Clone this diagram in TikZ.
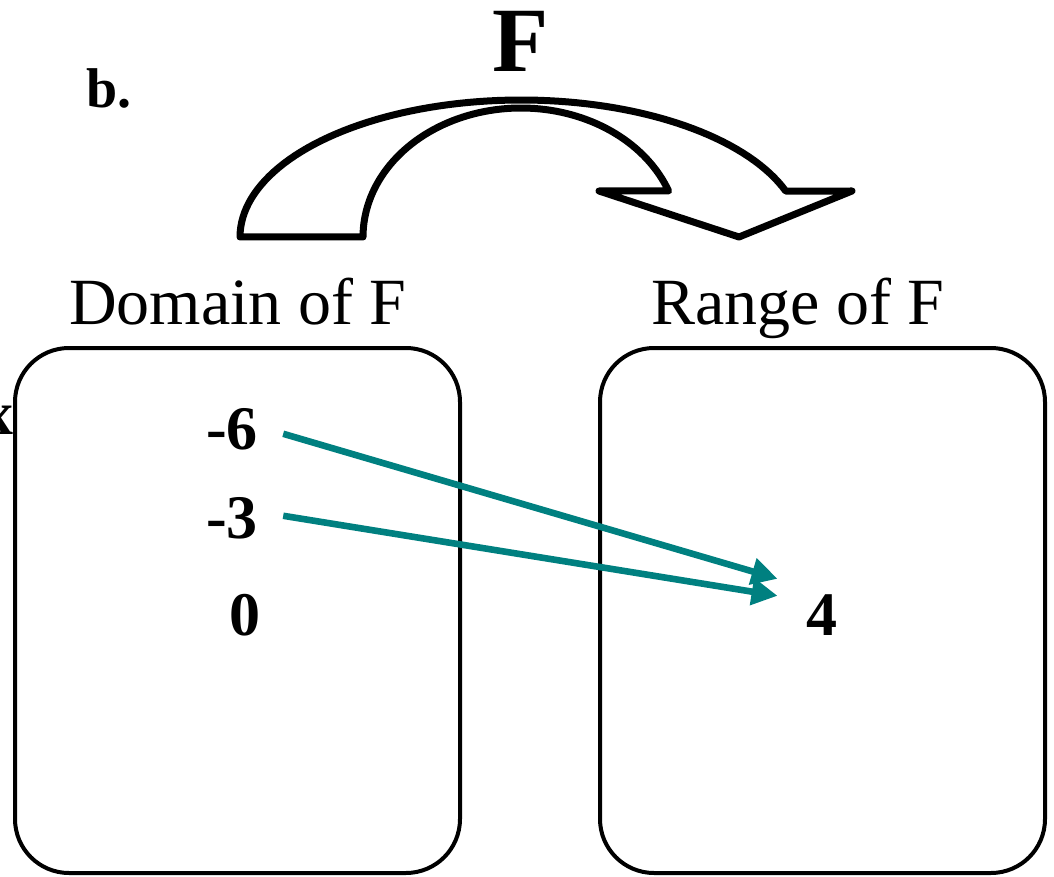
\documentclass[tikz,border=0pt]{standalone}
\usepackage{fontspec}
\setmainfont{Liberation Serif}
\usepackage{xcolor}
\usepackage{tikz}
\usetikzlibrary{positioning,calc,arrows.meta}
\definecolor{mapteal}{RGB}{0,128,128}

\begin{document}
\begin{tikzpicture}[x=0.5pt, y=-0.5pt,
    setbox/.style={draw, rectangle, rounded corners=27pt, line width=2pt, minimum width=222.5pt, minimum height=262.5pt, inner sep=0pt},
    setlabel/.style={font=\fontsize{33}{36}\selectfont, inner sep=0pt, anchor=base},
    numlabel/.style={font=\fontsize{31}{36}\selectfont\bfseries, inner sep=0pt, anchor=base},
    mapsto/.style={-{Triangle[length=13pt,width=13pt]}, line width=3.3pt, mapteal}]
    \useasboundingbox (0,0) rectangle (1054,877);

    \node [setbox] (domainbox) at (237.5,610.5) {};
    \node [setbox] (rangebox) at (822.5,610.5) {};

    % the big curved arrow over the two sets
    \draw [line width=3.5pt, line join=round]
        plot[domain=180:340.4, samples=80] ({521+281*cos(\x)},{237+137*sin(\x)})
        -- (852,191) -- (739,237) -- (599,191) -- (667,191)
        -- plot[domain=339.1:180, samples=80] ({521+158*cos(\x)},{237+129*sin(\x)})
        -- cycle;

    \node [font=\fontsize{46}{50}\selectfont\bfseries, inner sep=0pt, anchor=base] (fname) at (521,72) {F};
    \node [font=\fontsize{28}{32}\selectfont\bfseries, inner sep=0pt, anchor=base] (part) at (109,108) {b.};
    \node [setlabel] (domainlabel) at (238,324) {Domain of F};
    \node [setlabel] (rangelabel) at (798,324) {Range of F};

    \node [numlabel] (xlabel) at (-2,434) {x};
    \node [numlabel] (dm6) at (232,449) {-6};
    \node [numlabel] (dm3) at (232,538) {-3};
    \node [numlabel] (d0) at (245,635) {0};
    \node [numlabel] (r4) at (822,635) {4};

    \draw [mapsto] ($(dm6.east)+(25,5)$) -- ($(r4.north west)+(-28.5,-15)$);
    \draw [mapsto] ($(dm3.east)+(25,-2)$) -- ($(r4.north west)+(-28.5,2)$);
\end{tikzpicture}
\end{document}
